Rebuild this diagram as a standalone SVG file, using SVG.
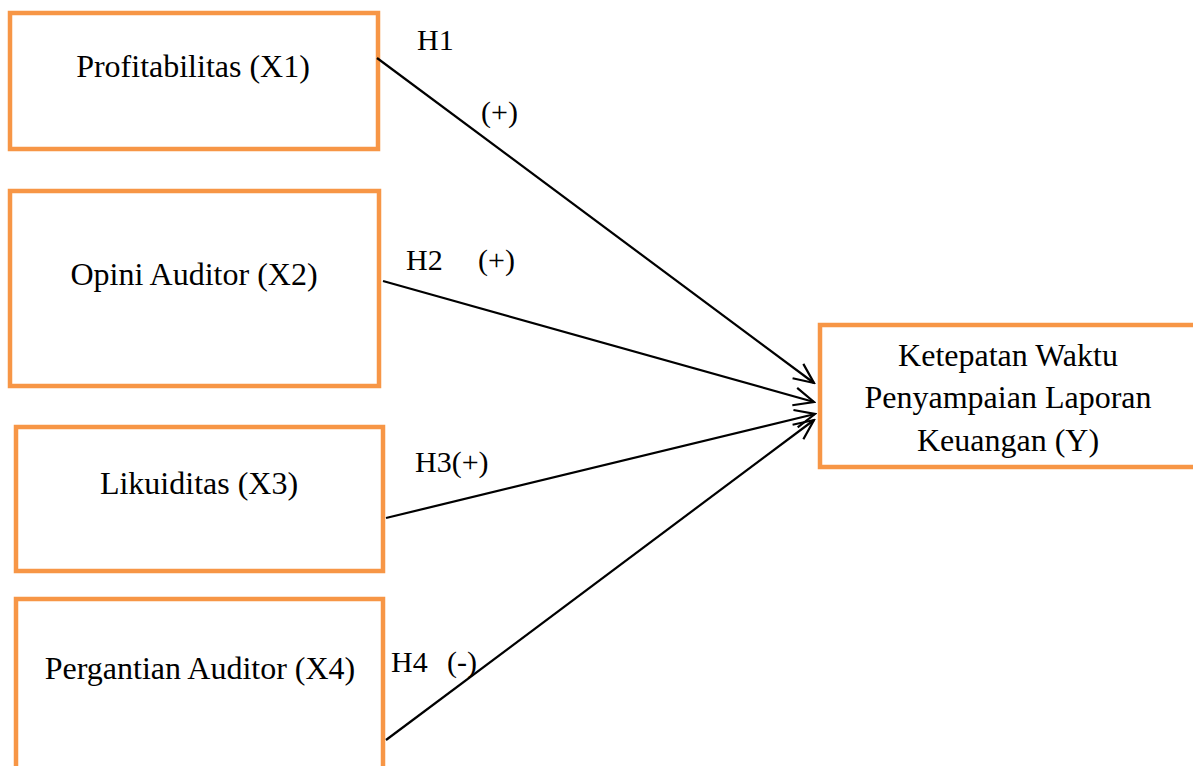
<svg xmlns="http://www.w3.org/2000/svg" width="1193" height="766" viewBox="0 0 1193 766">
<style>
.box{fill:#fff;stroke:#F79646;stroke-width:4.5}
.t{font-family:"Liberation Serif","Times New Roman",serif;font-size:32px;fill:#000}
.l{font-family:"Liberation Serif","Times New Roman",serif;font-size:30px;fill:#000}
.c{text-anchor:middle}
.ln{stroke:#000;stroke-width:2.2;fill:none}
</style>
<defs>
<marker id="ah" markerWidth="24" markerHeight="24" refX="22" refY="12" orient="auto" markerUnits="userSpaceOnUse">
<path d="M2,3 L22,12 L2,21" fill="none" stroke="#000" stroke-width="2.2"/>
</marker>
</defs>
<rect width="1193" height="766" fill="#fff"/>
<g id="x1"><rect class="box" x="10" y="13" width="368" height="136"/><text class="t c" x="193" y="77">Profitabilitas (X1)</text></g>
<g id="x2"><rect class="box" x="10" y="191" width="369" height="195"/><text class="t c" x="194" y="285">Opini Auditor (X2)</text></g>
<g id="x3"><rect class="box" x="16" y="427" width="367" height="144"/><text class="t c" x="199" y="494">Likuiditas (X3)</text></g>
<g id="x4"><rect class="box" x="16" y="599" width="367" height="200"/><text class="t c" x="200" y="679">Pergantian Auditor (X4)</text></g>
<g id="y"><rect class="box" x="820" y="325" width="400" height="142"/>
<text class="t c" x="1008" y="366">Ketepatan Waktu</text>
<text class="t c" x="1008" y="408">Penyampaian Laporan</text>
<text class="t c" x="1008" y="451">Keuangan (Y)</text></g>
<g id="connectors">
<line class="ln" x1="377" y1="58" x2="814" y2="383" marker-end="url(#ah)"/>
<line class="ln" x1="383" y1="281" x2="814" y2="402" marker-end="url(#ah)"/>
<line class="ln" x1="386" y1="518" x2="815" y2="414" marker-end="url(#ah)"/>
<line class="ln" x1="386" y1="740" x2="814" y2="420" marker-end="url(#ah)"/>
</g>
<g id="labels">
<text class="l" x="417" y="50">H1</text>
<text class="l" x="481" y="122">(+)</text>
<text class="l" x="406" y="270">H2</text>
<text class="l" x="478" y="270">(+)</text>
<text class="l" x="415" y="472">H3(+)</text>
<text class="l" x="391" y="672">H4</text>
<text class="l" x="447" y="672">(-)</text>
</g>
</svg>
